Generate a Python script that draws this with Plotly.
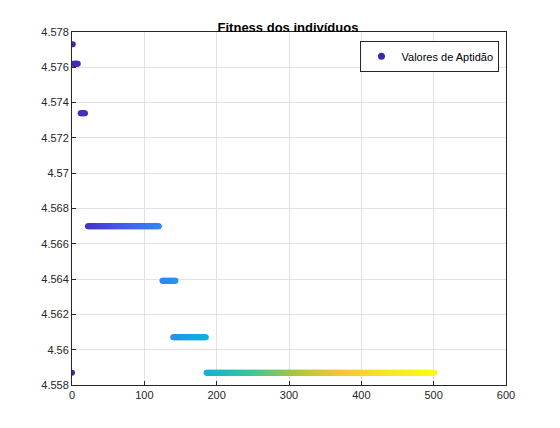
import numpy as np
import plotly.graph_objects as go

# run-length data: fitness level, first index, last index
levels = [4.5587, 4.5773, 4.5762, 4.5734, 4.5670, 4.5639, 4.5607, 4.5587]
starts = [0, 1, 2, 12, 22, 125, 140, 186]
ends   = [0, 1, 8, 18, 120, 143, 185, 501]

xs, ys = [], []
for lv, s, e in zip(levels, starts, ends):
    for i in range(s, e + 1):
        xs.append(i); ys.append(lv)

parula = [[0, 'rgb(62,38,168)'], [0.125, 'rgb(72,82,244)'], [0.25, 'rgb(46,135,247)'],
          [0.375, 'rgb(18,177,214)'], [0.5, 'rgb(55,200,151)'], [0.625, 'rgb(171,199,57)'],
          [0.75, 'rgb(254,195,56)'], [0.875, 'rgb(247,230,35)'], [1, 'rgb(249,251,21)']]

fig = go.Figure()
fig.add_trace(go.Scatter(x=xs, y=ys, mode='markers', name='Valores de Aptidão', showlegend=False,
    marker=dict(size=6, color=xs, colorscale=parula, cmin=0, cmax=501)))
fig.add_trace(go.Scatter(x=[None], y=[None], mode='markers', name='Valores de Aptidão',
    marker=dict(size=7, color='rgb(62,38,168)')))

ax = dict(showline=True, linecolor='#262626', linewidth=1, mirror=True, ticks='inside',
          ticklen=4, tickcolor='#262626', gridcolor='#e3e3e3', zeroline=False,
          tickfont=dict(family='Liberation Sans', size=11, color='#262626'))
fig.update_layout(
    width=560, height=428, plot_bgcolor='white', paper_bgcolor='white',
    margin=dict(l=64, r=62, t=24, b=51),
    title=dict(text='<b>Fitness dos indivíduos</b>', x=0.5, xanchor='center', y=0.965,
               font=dict(family='Liberation Sans', size=13, color='black')),
    xaxis=dict(range=[0, 600], dtick=100, **ax),
    yaxis=dict(range=[4.558, 4.578], dtick=0.002, tickformat='.3~f', **ax),
    legend=dict(x=0.985, y=0.975, xanchor='right', yanchor='top', bgcolor='white',
                bordercolor='#262626', borderwidth=1,
                font=dict(family='Liberation Sans', size=11, color='black')),
)
fig.write_html('out.html')
